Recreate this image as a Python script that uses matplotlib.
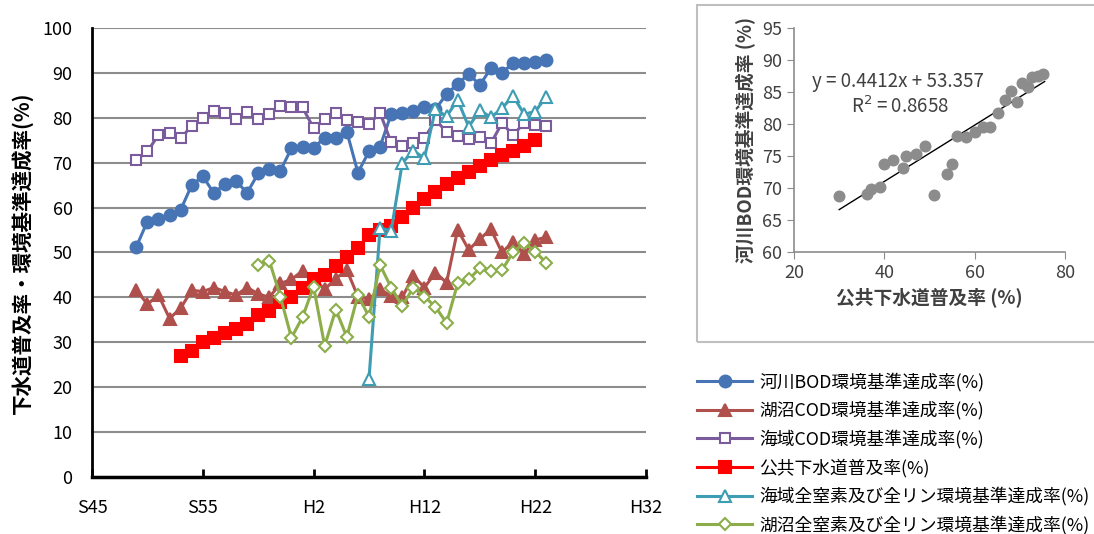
import matplotlib.pyplot as plt
from matplotlib.patches import Rectangle

plt.rcParams['font.family'] = ['Noto Sans CJK JP', 'DejaVu Sans']

# ---- main chart data ----
years_main = list(range(1974, 2012))
river_bod = [51.3, 56.9, 57.4, 58.4, 59.5, 65.0, 67.0, 63.2, 65.3, 65.9,
             63.3, 67.6, 68.5, 68.2, 73.2, 73.5, 73.3, 75.6, 75.4, 76.9,
             67.8, 72.5, 73.6, 80.8, 81.0, 81.5, 82.3, 81.9, 85.3, 87.5,
             89.8, 87.3, 91.0, 89.9, 92.3, 92.3, 92.5, 92.9]
lake_cod = [41.6, 38.5, 40.5, 35.3, 37.6, 41.6, 41.3, 42.2, 41.3, 40.5,
            42.2, 40.8, 40.0, 43.1, 44.0, 45.9, 44.2, 41.8, 44.2, 46.1,
            40.2, 39.6, 41.8, 40.3, 40.0, 44.8, 42.2, 45.5, 43.3, 55.1,
            50.6, 53.0, 55.2, 50.0, 52.4, 49.7, 52.8, 53.4]
sea_cod = [70.6, 72.5, 76.2, 76.7, 75.4, 78.2, 79.9, 81.6, 81.1, 79.7,
           81.4, 79.7, 80.8, 82.6, 82.5, 82.3, 77.7, 79.7, 81.0, 79.4,
           79.1, 78.6, 81.1, 74.5, 73.7, 74.3, 75.4, 79.5, 76.9, 76.0,
           75.2, 75.8, 74.3, 78.8, 76.2, 78.8, 78.4, 78.2]

years_sewer = list(range(1978, 2011))
sewer = [27.0, 28.0, 30.0, 31.0, 32.0, 33.0, 34.0, 36.0, 37.0, 39.0,
         40.0, 42.0, 44.0, 45.0, 47.0, 49.0, 51.0, 54.0, 55.0, 56.0,
         58.0, 60.0, 62.0, 63.5, 65.2, 66.7, 68.0, 69.3, 70.5, 71.7,
         72.7, 73.7, 75.1]

years_sea_np = list(range(1995, 2012))
sea_np = [21.9, 55.5, 54.8, 69.9, 72.7, 71.0, 82.0, 80.3, 84.0, 78.0,
          81.7, 80.1, 82.1, 84.9, 80.8, 81.4, 84.7]

years_lake_np = list(range(1985, 2012))
lake_np = [47.2, 48.2, 40.2, 31.0, 35.6, 42.4, 29.2, 37.3, 31.2, 40.5,
           35.7, 47.2, 42.2, 38.1, 42.2, 40.2, 37.9, 34.3, 43.1, 44.0,
           46.5, 45.9, 46.1, 50.0, 52.2, 50.2, 47.7]

tick_years = [1970, 1980, 1990, 2000, 2010, 2020]
tick_labels = ['S45', 'S55', 'H2', 'H12', 'H22', 'H32']

# ---- inset scatter data ----
sc_sewer = [30.0, 36.1, 37.0, 39.0, 39.9, 42.0, 44.1, 44.9, 47.0, 49.0,
            51.0, 53.9, 55.0, 56.0, 58.1, 60.1, 61.8, 63.5, 65.2, 66.7,
            68.0, 69.3, 70.4, 71.7, 72.8, 74.1, 75.2]
sc_bod = [68.7, 69.0, 69.9, 70.1, 73.8, 74.4, 73.1, 75.0, 75.3, 76.6,
          68.9, 72.1, 73.7, 78.1, 77.9, 78.7, 79.5, 79.5, 81.7, 83.8,
          85.2, 83.4, 86.4, 85.8, 87.3, 87.5, 87.8]
fit_slope, fit_icept = 0.4412, 53.357
fit_x = [30.0, 75.5]

W, H = 1094, 534
fig = plt.figure(figsize=(W / 100, H / 100), dpi=100)

# ---- main axes ----
ax = fig.add_axes([92 / W, 1 - 477 / H, (646 - 92) / W, (477 - 28) / H])

series = [
    (years_main, river_bod, '河川BOD環境基準達成率(%)', '#4674b4', 'o', '#4674b4', 8.5),
    (years_main, lake_cod, '湖沼COD環境基準達成率(%)', '#b0504c', '^', '#b0504c', 8.5),
    (years_main, sea_cod, '海域COD環境基準達成率(%)', '#7a5c9c', 's', 'white', 7.5),
    (years_sewer, sewer, '公共下水道普及率(%)', '#ff0000', 's', '#ff0000', 8.5),
    (years_sea_np, sea_np, '海域全窒素及び全リン環境基準達成率(%)', '#3e9cb3', '^', 'white', 8),
    (years_lake_np, lake_np, '湖沼全窒素及び全リン環境基準達成率(%)', '#8cad4a', 'D', 'white', 6),
]
for xs, ys, lab, col, mk, fc, ms in series:
    ax.plot(xs, ys, color=col, lw=2.2, marker=mk, markersize=ms,
            markerfacecolor=fc, markeredgecolor=col, markeredgewidth=1.5,
            label=lab)

ax.set_xlim(1970, 2020)
ax.set_ylim(0, 100)
ax.set_yticks(range(0, 101, 10))
ax.set_xticks(tick_years)
ax.set_xticklabels(tick_labels)
ax.grid(axis='y', color='#8c8c8c', lw=1.5)
ax.set_axisbelow(True)
for s in ['top', 'right']:
    ax.spines[s].set_visible(False)
ax.spines['left'].set_linewidth(2)
ax.spines['bottom'].set_linewidth(2.5)
ax.tick_params(axis='y', length=0, pad=14, labelsize=13)
ax.tick_params(axis='x', direction='in', length=6, width=2, pad=16, labelsize=13)
ax.set_ylabel('下水道普及率・環境基準達成率(%)', fontsize=14.8, fontweight='bold', labelpad=6)

fig.legend(loc='upper left', bbox_to_anchor=(690 / W, 1 - 365 / H),
           frameon=False, fontsize=12.8, numpoints=1, handlelength=3.1,
           labelspacing=0.55, handletextpad=0.4, borderaxespad=0)

# ---- inset panel ----
fig.patches.append(Rectangle((697 / W, 1 - 342 / H), (W - 697 + 5) / W, (342 - 5) / H,
                             transform=fig.transFigure, fill=False,
                             edgecolor='#bfbfbf', lw=1.5))

ax2 = fig.add_axes([794 / W, 1 - 251.7 / H, 271 / W, 223.4 / H])
ax2.scatter(sc_sewer, sc_bod, s=58, color='#8c8c8c', zorder=3)
ax2.plot(fit_x, [fit_slope * v + fit_icept for v in fit_x], color='black', lw=1)
ax2.text(43.0, 86.6, 'y = 0.4412x + 53.357', ha='center', va='center',
         fontsize=13.5, color='#404040')
ax2.text(43.5, 82.7, 'R$^2$ = 0.8658', ha='center', va='center',
         fontsize=13.5, color='#404040')
ax2.set_xlim(20, 80)
ax2.set_ylim(60, 95)
ax2.set_xticks([20, 40, 60, 80])
ax2.set_yticks(range(60, 96, 5))
for s in ['top', 'right']:
    ax2.spines[s].set_visible(False)
for s in ['left', 'bottom']:
    ax2.spines[s].set_color('#8c8c8c')
    ax2.spines[s].set_linewidth(1.2)
ax2.tick_params(colors='#8c8c8c', labelcolor='#404040', labelsize=13, length=5)
ax2.set_xlabel('公共下水道普及率 (%)', fontsize=13.5, fontweight='bold', color='#404040')
ax2.set_ylabel('河川BOD環境基準達成率 (%)', fontsize=13.5, fontweight='bold', color='#404040',
               labelpad=4)

fig.savefig('out.png', dpi=100)
